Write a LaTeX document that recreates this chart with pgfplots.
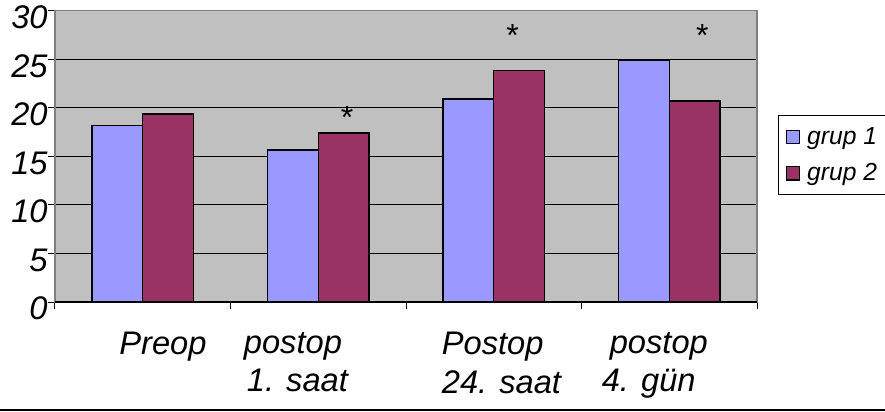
\documentclass[border=0pt]{standalone}
\usepackage{fontspec}
\setmainfont{Liberation Sans}
\usepackage{pgfplots}
\pgfplotsset{compat=1.18}
\definecolor{gA}{HTML}{9999FF}
\definecolor{gB}{HTML}{993366}
\definecolor{bg}{HTML}{C0C0C0}
\definecolor{bd}{HTML}{808080}
\pgfplotsset{sqlegend/.style={legend image code/.code={\draw[##1, draw=black, line width=0.8pt] (0pt,-5pt) rectangle (10pt,5pt); \path (13pt,0pt);}}}
\begin{document}
\begin{tikzpicture}[x=0.75pt,y=0.75pt]
\begin{axis}[
 scale only axis, width=526.5pt, height=218.5pt,
 xmin=-0.5, xmax=3.5, ymin=0, ymax=30,
 ybar=0pt, bar width=0.288,
 axis background/.style={fill=bg},
 axis line style={bd, line width=1pt},
 ytick={0,5,...,30}, ymajorgrids, grid style={black, line width=0.75pt},
 xtick={-0.5,0.5,1.5,2.5,3.5}, xticklabels={},
 extra x ticks={0.115,0.873,2.044,2.918},
 extra x tick labels={{Preop},{postop\\\hspace*{2.25pt}1. saat},{Postop\\24. saat},{\hspace*{6pt}postop\\4. gün}},
 extra x tick style={major tick length=0pt},
 xtick pos=bottom, ytick pos=left,
 tick align=outside, major tick length=5pt,
 tick style={black, line width=0.75pt},
 /pgf/number format/assume math mode=true,
 ticklabel style={font=\itshape\fontsize{24.5}{29}\selectfont},
 yticklabel style={yshift=-5pt, xshift=3pt},
 xticklabel style={align=left, yshift=-19pt},
 legend style={at={(1.03,0.504)}, anchor=west, draw=black, line width=0.75pt, fill=white,
   font=\itshape\fontsize{18.5}{22}\selectfont, row sep=9pt, inner ysep=7pt, inner xsep=5.5pt},
 legend cell align=left,
]
\addplot[fill=gA, draw=black, line width=1.1pt, sqlegend] coordinates {(0,18.17) (1,15.67) (2,20.9) (3,24.93)};
\addplot[fill=gB, draw=black, line width=1.1pt, sqlegend] coordinates {(0,19.34) (1,17.42) (2,23.83) (3,20.7)};
\legend{grup 1, grup 2}
\coordinate (O) at (rel axis cs:0,0);
\draw[black, line width=1pt] (rel axis cs:0,0) -- (rel axis cs:1,0);
\node[anchor=base, font=\fontsize{24}{28}\selectfont] at (axis cs:1.164,17.9) {*};
\node[anchor=base, font=\fontsize{24}{28}\selectfont] at (axis cs:2.108,26.3) {*};
\node[anchor=base, font=\fontsize{24}{28}\selectfont] at (axis cs:3.188,26.3) {*};
\end{axis}
\pgfresetboundingbox
\path[use as bounding box] (O) ++(-55,-109) rectangle ++(885,411);
\draw[black, line width=1.5pt] (O) ++(-55,1.5-109) -- ++(885,0);
\end{tikzpicture}
\end{document}
